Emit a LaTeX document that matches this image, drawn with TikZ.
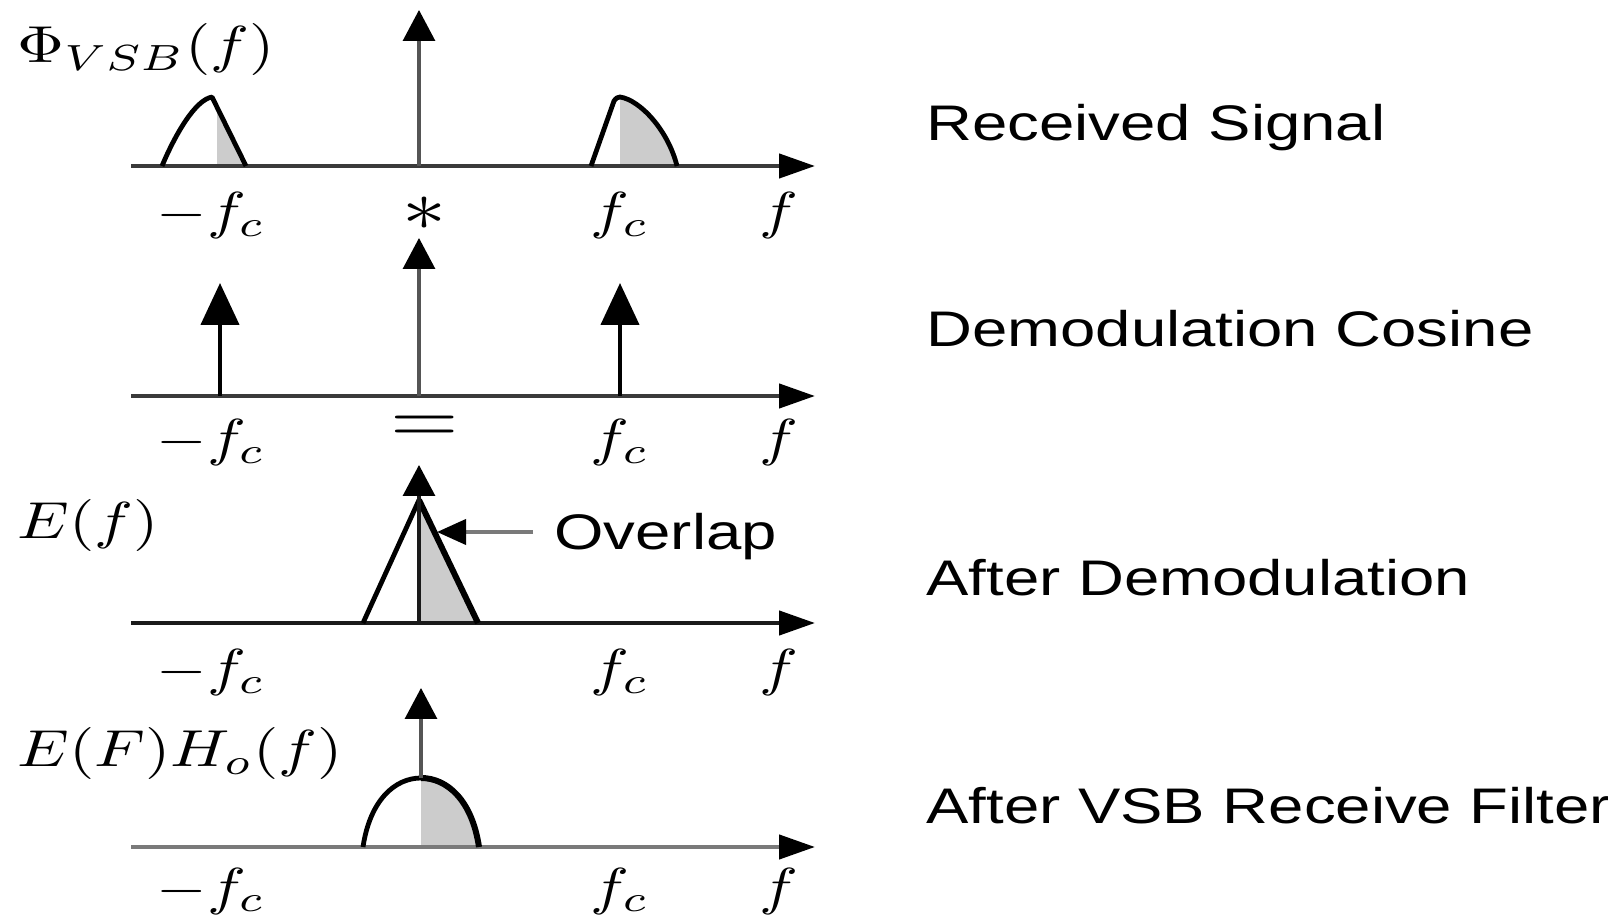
\documentclass[tikz,border=0pt]{standalone}
\usepackage{fontspec}
\setsansfont{Liberation Sans}
\usetikzlibrary{arrows.meta}
\definecolor{axdark}{HTML}{3A3A3A}
\definecolor{axblack}{HTML}{1A1A1A}
\definecolor{axgray}{HTML}{7A7A7A}
\definecolor{spkgray}{HTML}{555555}
\definecolor{shadegray}{HTML}{CCCCCC}
\tikzset{
  axisline/.style={line width=2.2pt, -{Triangle[length=18pt,width=12pt,black]}},
  cspike/.style={line width=1.6pt, -{Triangle[length=15.5pt,width=16pt,black]}},
  sspike/.style={line width=2.2pt, black, -{Triangle[length=21pt,width=19pt,black]}},
  bump/.style={line width=2.4pt, black, line join=round},
  shadefill/.style={fill=shadegray},
  mlab/.style={font=\fontsize{10}{12}\selectfont, xscale=3.25, yscale=2.6, inner sep=0pt},
  opsym/.style={font=\fontsize{10}{12}\selectfont, xscale=4.4, yscale=3.6, inner sep=0pt},
  rtxt/.style={font=\sffamily\fontsize{25}{30}\selectfont, xscale=1.27, inner sep=0pt, anchor=base west},
}
\begin{document}
\begin{tikzpicture}[x=0.5pt,y=-0.5pt]
\useasboundingbox (0,0) rectangle (1608,919);

% ---------- Row 1 : received signal ----------
\coordinate (a1s) at (131,166); \coordinate (a1e) at (815,166);
\coordinate (c1b) at (419,166); \coordinate (c1t) at (419,10);
\fill[shadefill] (217,166) -- (217,104) -- (246,166) -- cycle;
\fill[shadefill] (620,166) -- (620,97) .. controls (640,100) and (668,130) .. (677,166) -- cycle;
\draw[axisline, draw=axdark] (a1s) -- (a1e);
\draw[cspike, draw=spkgray] (c1b) -- (c1t);
\draw[bump] (162,166) .. controls (175,135) and (195,100) .. (212,97) -- (246,166);
\draw[bump] (591,166) -- (614,101) .. controls (616,98) and (618,97) .. (620,97)
  .. controls (640,100) and (668,130) .. (677,166);
\node[mlab, anchor=west] (phi) at (16,50) {$\Phi_{VSB}(f)$};
\node[mlab] (m1) at (211,216) {$-f_c$};
\node[opsym] (s1) at (424,214) {$\ast$};
\node[mlab] (p1) at (620,216) {$f_c$};
\node[mlab] (f1) at (779,216) {$f$};
\node[rtxt] (t1) at (926,141) {Received Signal};

% ---------- Row 2 : demodulation cosine ----------
\coordinate (a2s) at (131,396); \coordinate (a2e) at (815,396);
\coordinate (l2b) at (220,396); \coordinate (l2t) at (220,283);
\coordinate (r2b) at (620,396); \coordinate (r2t) at (620,283);
\coordinate (c2b) at (419,396); \coordinate (c2t) at (419,238);
\draw[axisline, draw=axdark] (a2s) -- (a2e);
\draw[sspike] (l2b) -- (l2t);
\draw[sspike] (r2b) -- (r2t);
\draw[cspike, draw=spkgray] (c2b) -- (c2t);
\node[mlab] (m2) at (211,443) {$-f_c$};
\node[opsym] (e2) at (425,429) {$=$};
\node[mlab] (p2) at (620,443) {$f_c$};
\node[mlab] (f2) at (779,443) {$f$};
\node[rtxt] (t2) at (926,347) {Demodulation Cosine};

% ---------- Row 3 : after demodulation ----------
\coordinate (a3s) at (131,623); \coordinate (a3e) at (815,623);
\coordinate (c3b) at (419,623); \coordinate (c3t) at (419,465);
\fill[shadefill] (420,623) -- (420,505) -- (478,623) -- cycle;
\draw[axisline, draw=axblack] (a3s) -- (a3e);
\draw[bump] (363,623) -- (419,500);
\draw[bump, line width=3pt] (419,500) -- (478,623);
\draw[cspike, draw=axblack] (c3b) -- (c3t);
\node[rtxt] (ovl) at (554,550) {Overlap};
\coordinate (ovs) at (533,532); \coordinate (ovt) at (437,532);
\draw[line width=2pt, axgray, -{Triangle[length=14.5pt,width=12.5pt,black]}] (ovs) -- (ovt);
\node[mlab, anchor=west] (ef) at (16,526) {$E(f)$};
\node[mlab] (m3) at (211,673) {$-f_c$};
\node[mlab] (p3) at (620,673) {$f_c$};
\node[mlab] (f3) at (779,673) {$f$};
\node[rtxt] (t3) at (926,596) {After Demodulation};

% ---------- Row 4 : after VSB receive filter ----------
\coordinate (a4s) at (131,847); \coordinate (a4e) at (815,847);
\coordinate (c4b) at (421,778); \coordinate (c4t) at (421,688);
\fill[shadefill] (421,847) -- (421,778) .. controls (447,778) and (472,800) .. (479,847) -- cycle;
\draw[axisline, draw=axgray] (a4s) -- (a4e);
\draw[bump] (363,847) .. controls (370,800) and (395,778) .. (421,778);
\draw[bump, line width=3pt] (421,778) .. controls (447,778) and (472,800) .. (479,847);
\draw[cspike, draw=spkgray] (c4b) -- (c4t);
\node[mlab, anchor=west] (eh) at (16,754) {$E(F)H_o(f)$};
\node[mlab] (m4) at (211,891) {$-f_c$};
\node[mlab] (p4) at (620,891) {$f_c$};
\node[mlab] (f4) at (779,891) {$f$};
\node[rtxt] (t4) at (926,823) {After VSB Receive Filter};
\end{tikzpicture}
\end{document}
